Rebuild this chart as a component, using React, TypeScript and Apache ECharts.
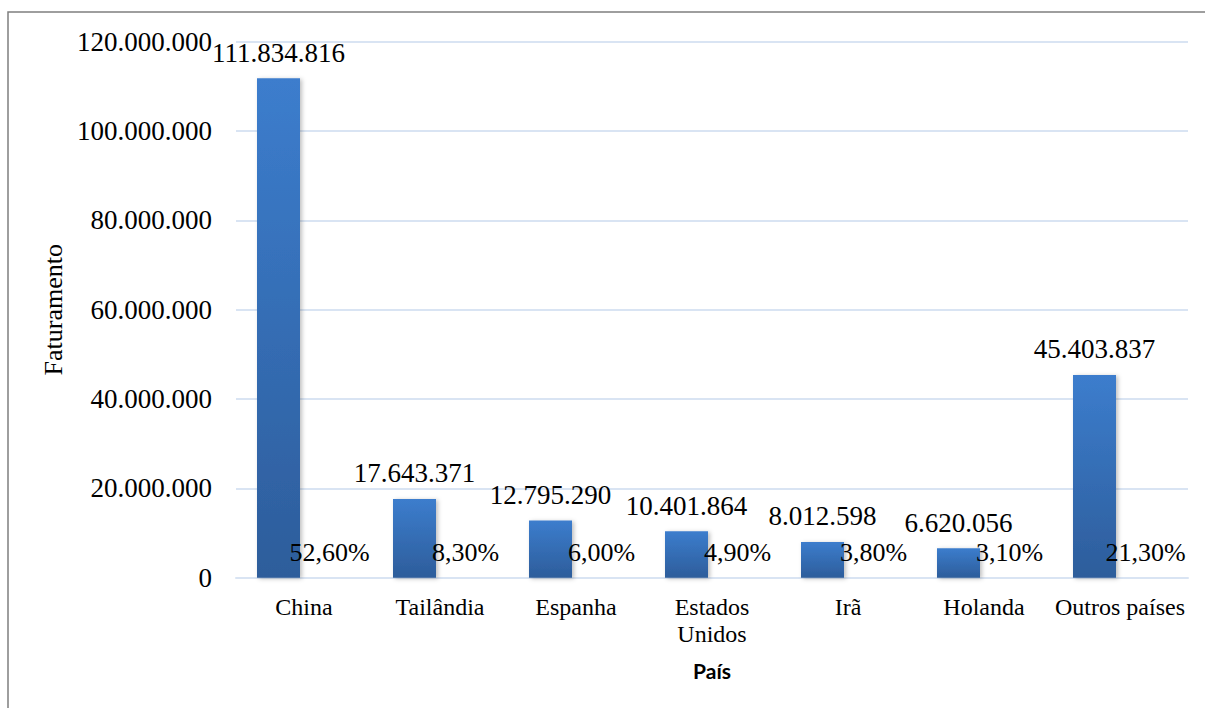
import React, { useEffect, useRef } from "react";
import * as echarts from "echarts";

const categories = ["China", "Tailândia", "Espanha", "Estados\nUnidos", "Irã", "Holanda", "Outros países"];
const revenue = [111834816, 17643371, 12795290, 10401864, 8012598, 6620056, 45403837];
const shares = [52.6, 8.3, 6.0, 4.9, 3.8, 3.1, 21.3];
const yMin = 0;
const yMax = 120000000;
const yInterval = 20000000;

const SERIF = "'Liberation Serif', 'Times New Roman', serif";

function fmtThousands(v: number): string {
  return Math.round(v).toString().replace(/\B(?=(\d{3})+(?!\d))/g, ".");
}
function fmtPct(v: number): string {
  return v.toFixed(2).replace(".", ",") + "%";
}

export default function App() {
  const ref = useRef<HTMLDivElement>(null);
  useEffect(() => {
    if (!ref.current) return;
    const chart = echarts.init(ref.current, undefined, { renderer: "svg" });
    chart.setOption({
      animation: false,
      backgroundColor: "#ffffff",
      graphic: [
        {
          type: "rect",
          shape: { x: 8, y: 12, width: 1400, height: 900 },
          style: { fill: "none", stroke: "#7f7f7f", lineWidth: 1.5 },
          silent: true,
          z: 0,
        },
      ],
      grid: { left: 236, right: 17, top: 41.7, bottom: 130.3, containLabel: false },
      xAxis: {
        type: "category",
        data: categories,
        axisTick: { show: false },
        axisLine: { show: true, lineStyle: { color: "#d9e4f3", width: 2 } },
        axisLabel: {
          color: "#000",
          fontFamily: SERIF,
          fontSize: 24,
          lineHeight: 27,
          margin: 16,
          interval: 0,
        },
        name: "País",
        nameLocation: "middle",
        nameGap: 82,
        nameTextStyle: { color: "#000", fontFamily: "Lato, 'Open Sans', sans-serif", fontWeight: "bold", fontSize: 21 },
      },
      yAxis: [
        {
          type: "value",
          min: yMin,
          max: yMax,
          interval: yInterval,
          axisLine: { show: false },
          axisTick: { show: false },
          splitLine: { lineStyle: { color: "#d9e4f3", width: 2 } },
          axisLabel: {
            color: "#000",
            fontFamily: SERIF,
            fontSize: 27,
            margin: 24,
            formatter: (v: number) => fmtThousands(v),
          },
          name: "Faturamento",
          nameLocation: "middle",
          nameGap: 159,
          nameRotate: 90,
          nameTextStyle: { color: "#000", fontFamily: SERIF, fontSize: 26 },
        },
        {
          type: "value",
          min: 0,
          max: 1e9,
          show: false,
          splitLine: { show: false },
        },
      ],
      series: [
        {
          type: "bar",
          data: revenue,
          barWidth: 43,
          itemStyle: {
            color: new echarts.graphic.LinearGradient(0, 0, 0, 1, [
              { offset: 0, color: "#3c7dcd" },
              { offset: 1, color: "#2d5d9b" },
            ]),
            shadowBlur: 4,
            shadowOffsetX: 2,
            shadowOffsetY: 1,
            shadowColor: "rgba(0,0,0,0.25)",
          },
          label: {
            show: true,
            position: "top",
            distance: 12,
            color: "#000",
            fontFamily: SERIF,
            fontSize: 27,
            formatter: (p: any) => fmtThousands(p.value),
          },
        },
        {
          type: "bar",
          yAxisIndex: 1,
          data: shares,
          barWidth: 43,
          barGap: "18.6%",
          itemStyle: { color: "rgba(0,0,0,0)" },
          label: {
            show: true,
            position: "top",
            distance: 12,
            color: "#000",
            fontFamily: SERIF,
            fontSize: 26,
            formatter: (p: any) => fmtPct(p.value),
          },
        },
      ],
    });
    return () => chart.dispose();
  }, []);
  return (
    <div
      ref={ref}
      style={{ position: "absolute", left: 0, top: 0, width: 1205, height: 708 }}
    />
  );
}
